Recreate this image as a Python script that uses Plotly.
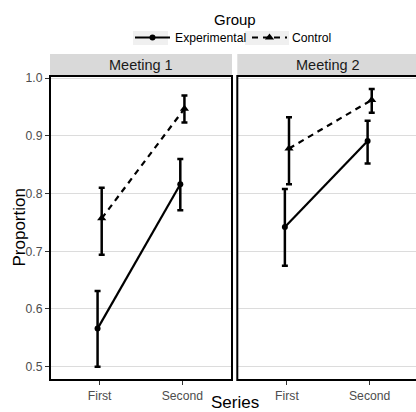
import plotly.graph_objects as go

# ---------------- data ----------------
series = ["First", "Second"]
meetings = ["Meeting 1", "Meeting 2"]
groups = ["Experimental", "Control"]
legend_title = "Group"

exp_m1 = [0.566, 0.816]
exp_m1_hi = [0.631, 0.860]
exp_m1_lo = [0.500, 0.771]
ctl_m1 = [0.757, 0.947]
ctl_m1_hi = [0.810, 0.970]
ctl_m1_lo = [0.694, 0.923]

exp_m2 = [0.742, 0.891]
exp_m2_hi = [0.808, 0.926]
exp_m2_lo = [0.675, 0.852]
ctl_m2 = [0.878, 0.962]
ctl_m2_hi = [0.932, 0.981]
ctl_m2_lo = [0.816, 0.940]

y_ticks = [0.5, 0.6, 0.7, 0.8, 0.9, 1.0]
y_tick_labels = ["0.5", "0.6", "0.7", "0.8", "0.9", "1.0"]

# ---------------- layout helpers ----------------
W, H = 416, 412
def px(x):
    return x / W
def py(y):
    return 1 - y / H

FONT = "Liberation Sans, Arial, Helvetica, sans-serif"
dodge = 0.025
xpos = [i + 1 for i in range(len(series))]

fig = go.Figure()

panels = [
    ("x", "y", exp_m1, exp_m1_hi, exp_m1_lo, ctl_m1, ctl_m1_hi, ctl_m1_lo, True),
    ("x2", "y2", exp_m2, exp_m2_hi, exp_m2_lo, ctl_m2, ctl_m2_hi, ctl_m2_lo, False),
]

for xa, ya, ev, ehi, elo, cv, chi, clo, show in panels:
    fig.add_trace(go.Scatter(
        x=[p - dodge for p in xpos], y=ev, xaxis=xa, yaxis=ya,
        mode="lines+markers", name=groups[0], legendgroup=groups[0],
        showlegend=show, legendrank=1,
        line=dict(color="black", width=2.2),
        marker=dict(symbol="circle", size=6, color="black"),
        error_y=dict(type="data", symmetric=False,
                     array=[h - v for h, v in zip(ehi, ev)],
                     arrayminus=[v - l for v, l in zip(ev, elo)],
                     color="black", thickness=2.5, width=3),
    ))
    fig.add_trace(go.Scatter(
        x=[p + dodge for p in xpos], y=cv, xaxis=xa, yaxis=ya,
        mode="lines+markers", name=groups[1], legendgroup=groups[1],
        showlegend=show, legendrank=2,
        line=dict(color="black", width=2.2, dash="6px,5px"),
        marker=dict(symbol="triangle-up", size=8, color="black"),
        error_y=dict(type="data", symmetric=False,
                     array=[h - v for h, v in zip(chi, cv)],
                     arrayminus=[v - l for v, l in zip(cv, clo)],
                     color="black", thickness=2.5, width=3),
    ))

unit_px = 182 / 2.2
x2_end = 0.4 + (W - 237.3) / unit_px
x2_full = 182 / (W - 237.3)

ydom = [py(380), py(76)]
yrange = [0.477, 1.0036]

TICKFONT = dict(size=12.2, color="#4d4d4d", family=FONT)

common_x = dict(
    tickmode="array", tickvals=xpos, ticktext=series,
    ticks="outside", ticklen=4, tickwidth=1, tickcolor="#333333",
    tickfont=TICKFONT,
    showgrid=False, zeroline=False, showline=False,
)
common_y = dict(
    range=yrange, domain=ydom, tickmode="array", tickvals=y_ticks,
    ticktext=y_tick_labels,
    showgrid=True, gridcolor="#dcdcdc", gridwidth=1.2,
    zeroline=False, showline=False,
)

fig.update_layout(
    width=W, height=H,
    margin=dict(l=0, r=0, t=0, b=0, autoexpand=False),
    paper_bgcolor="white", plot_bgcolor="white",
    font=dict(family=FONT, color="black"),
    xaxis=dict(domain=[px(50), px(232)], range=[0.4, 2.6], anchor="y", **common_x),
    xaxis2=dict(domain=[px(237.3), 1.0], range=[0.4, x2_end], anchor="y2", **common_x),
    yaxis=dict(anchor="x", ticks="outside", ticklen=4, tickwidth=1,
               tickcolor="#333333", tickfont=TICKFONT, **common_y),
    yaxis2=dict(anchor="x2", showticklabels=False, ticks="", **common_y),
    legend=dict(
        orientation="h", x=px(130), xanchor="left", y=py(23), yanchor="top",
        bgcolor="rgba(0,0,0,0)",
        font=dict(size=12.2, family=FONT), itemwidth=35,
        entrywidthmode="pixels", entrywidth=67,
        traceorder="normal",
    ),
    showlegend=True,
)

shapes = []
# legend key backgrounds
for x0, x1 in ((133, 168), (245, 289)):
    shapes.append(dict(type="rect", xref="paper", yref="paper",
                       x0=px(x0), x1=px(x1), y0=py(45), y1=py(31),
                       fillcolor="#f0f0f0", line=dict(width=0), layer="below"))
# strips
for xr, x1 in (("x domain", 1.0), ("x2 domain", x2_full)):
    shapes.append(dict(type="rect", xref=xr, yref="paper", x0=0, x1=x1,
                       y0=py(76), y1=py(54), fillcolor="#d9d9d9",
                       line=dict(width=0), layer="below"))
# panel borders
for xr, yr, x1 in (("x domain", "y domain", 1.0),
                   ("x2 domain", "y2 domain", x2_full)):
    shapes.append(dict(type="rect", xref=xr, yref=yr, x0=0, x1=x1, y0=0, y1=1,
                       fillcolor="rgba(0,0,0,0)",
                       line=dict(color="black", width=2), layer="above"))
fig.update_layout(shapes=shapes)

annotations = [
    dict(text=legend_title, xref="paper", yref="paper", x=px(234.5), y=py(20),
         showarrow=False, xanchor="center", yanchor="middle",
         font=dict(size=15, color="black", family=FONT)),
    dict(text=meetings[0], xref="x", yref="paper", x=1.5, y=py(65),
         showarrow=False, xanchor="center", yanchor="middle",
         font=dict(size=14.5, color="#1a1a1a", family=FONT)),
    dict(text=meetings[1], xref="x2", yref="paper", x=1.5, y=py(65),
         showarrow=False, xanchor="center", yanchor="middle",
         font=dict(size=14.5, color="#1a1a1a", family=FONT)),
    dict(text="Proportion", xref="paper", yref="paper", x=px(18.5), y=py(228),
         showarrow=False, textangle=-90, xanchor="center", yanchor="middle",
         font=dict(size=17, color="black", family=FONT)),
    dict(text="Series", xref="paper", yref="paper", x=px(234.5), y=py(402.5),
         showarrow=False, xanchor="center", yanchor="middle",
         font=dict(size=17, color="black", family=FONT)),
]
fig.update_layout(annotations=annotations)

fig.write_html("out.html", config={"displayModeBar": False},
               post_script="document.body.style.margin='0';")
